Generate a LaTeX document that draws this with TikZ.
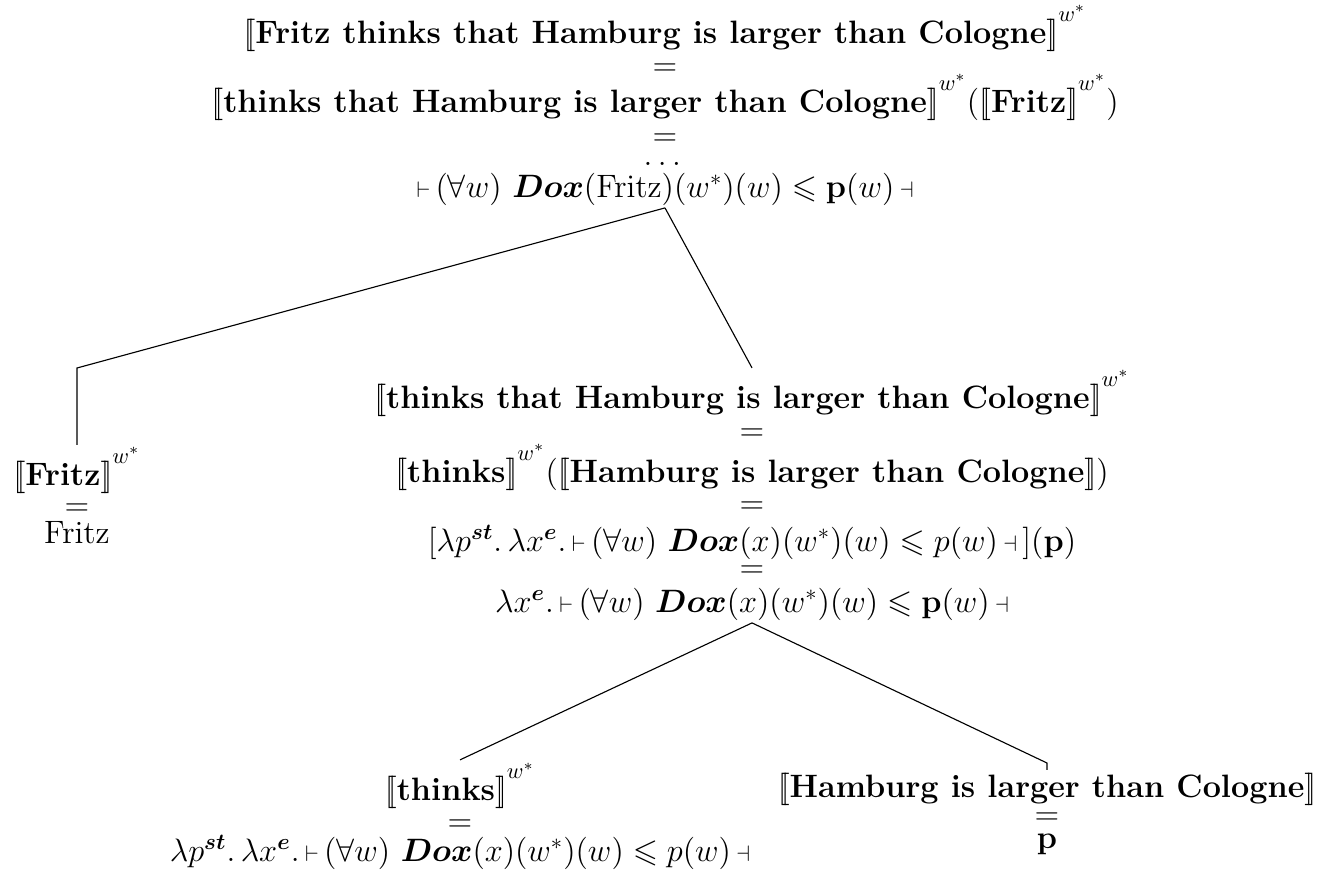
\documentclass[tikz,border=0pt]{standalone}
\usepackage{amsmath, amssymb}
\newcommand{\dent}[1]{[\mkern-3.2mu[\textbf{#1}]\mkern-3.2mu]}
\newcommand{\ws}{^{\raisebox{4.5pt}{$\scriptstyle w^*$}}}
\newcommand{\Dox}{\boldsymbol{Dox}}
\newcommand{\bsup}[1]{^{\boldsymbol{#1}}}
\newcommand{\lgate}{\mathord{\scriptstyle\vdash}\,}
\newcommand{\rgate}{\,\mathord{\scriptstyle\dashv}}

\begin{document}
\begin{tikzpicture}[x=0.445pt, y=-0.445pt, line width=0.5pt,
    every node/.style={anchor=base, inner sep=1pt, font=\Large}]
    \useasboundingbox (0,0) rectangle (1343,876);
    % root
    \node (rootA) at (665,43) {$\dent{Fritz thinks that Hamburg is larger than Cologne}\ws$};
    \node (rooteqA) at (665,75) {$=$};
    \node (rootB) at (665,112) {$\dent{thinks that Hamburg is larger than Cologne}\ws(\dent{Fritz}\ws)$};
    \node (rooteqB) at (665,145) {$=$};
    \node (rootdots) at (665,165) {$\dots$};
    \node (rootC) at (665,197) {$\lgate(\forall w)\ \Dox(\mathrm{Fritz})(w^*)(w)\leqslant\mathbf{p}(w)\rgate$};
    % subject
    \node (fritzA) at (77,485) {$\dent{Fritz}\ws$};
    \node (fritzeq) at (77,515) {$=$};
    \node (fritzC) at (77,543) {Fritz};
    % VP
    \node (midA) at (752,408) {$\dent{thinks that Hamburg is larger than Cologne}\ws$};
    \node (mideqA) at (752,440) {$=$};
    \node (midB) at (752,482) {$\dent{thinks}\ws(\dent{Hamburg is larger than Cologne})$};
    \node (mideqB) at (752,513) {$=$};
    \node (midC) at (752,551) {$[\lambda p\bsup{st}.\,\lambda x\bsup{e}.\,\lgate(\forall w)\ \Dox(x)(w^*)(w)\leqslant p(w)\rgate\,](\mathbf{p})$};
    \node (mideqC) at (752,577) {$=$};
    \node (midD) at (752,612) {$\lambda x\bsup{e}.\,\lgate(\forall w)\ \Dox(x)(w^*)(w)\leqslant\mathbf{p}(w)\rgate$};
    % verb
    \node (thinksA) at (460,800) {$\dent{thinks}\ws$};
    \node (thinkseq) at (460,831) {$=$};
    \node (thinksC) at (460,861) {$\lambda p\bsup{st}.\,\lambda x\bsup{e}.\,\lgate(\forall w)\ \Dox(x)(w^*)(w)\leqslant p(w)\rgate$};
    % complement
    \node (hamA) at (1047,797) {$\dent{Hamburg is larger than Cologne}$};
    \node (hameq) at (1047,824) {$=$};
    \node (hamC) at (1047,848) {$\mathbf{p}$};
    \coordinate (kneeF) at (77,368);
    \coordinate (kneeH) at (1047,763);
    \draw (rootC.south) -- (kneeF) -- (fritzA.north);
    \draw (rootC.south) -- (midA.north);
    \draw (midD.south) -- (thinksA.north);
    \draw (midD.south) -- (kneeH) -- (hamA.north);
\end{tikzpicture}
\end{document}
